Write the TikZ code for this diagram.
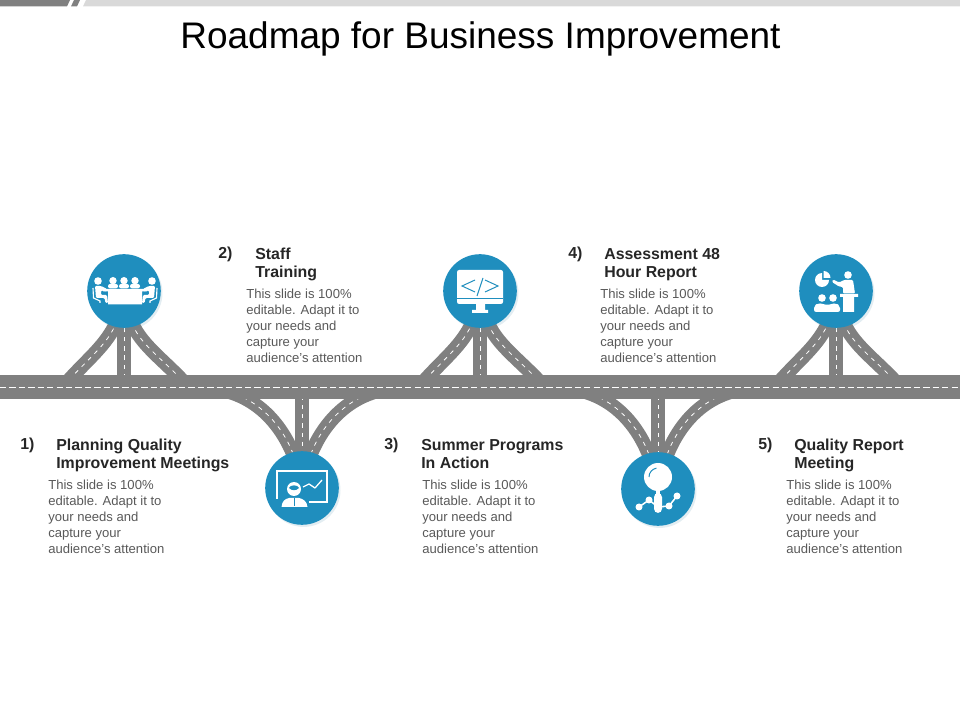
\documentclass[tikz,border=0pt]{standalone}
\usepackage{fontspec}
\setmainfont{Liberation Sans}
\usetikzlibrary{backgrounds}
\usetikzlibrary{shadows}
\definecolor{HUB}{HTML}{1F8EBE}
\definecolor{ROAD}{HTML}{808080}
\definecolor{BAR}{HTML}{D9D9D9}
\definecolor{TITLE}{HTML}{262626}
\definecolor{BODY}{HTML}{595959}
\tikzset{
	every node/.style = {inner sep=0pt},
	hub/.style = {circle, fill=HUB, minimum size=1.84cm, drop shadow={shadow xshift=1.2pt, shadow yshift=-1.5pt, opacity=.15, fill=HUB!60!gray}},
	road/.style = {draw=ROAD, line width=10pt, shorten >=-3pt},
	roadline/.style = {draw=white, line width=.55pt, dash pattern=on 3pt off 3.5pt},
	stepnum/.style = {anchor=base west, font=\fontsize{11.3}{13.5}\selectfont\bfseries, text=TITLE},
	steptitle/.style = {anchor=base west, align=left, font=\fontsize{11.3}{13.5}\selectfont\bfseries, text=TITLE},
	stepbody/.style = {anchor=base west, align=left, font=\fontsize{9.3}{11.34}\selectfont, text=BODY},
	icon/.style = {fill=white, draw=none},
	iconline/.style = {draw=white, line width=1.1pt},
	hubline/.style = {draw=HUB, line width=.7pt}
}
\newcommand{\slidenote}{This slide is 100\%\\editable. Adapt it to\\your needs and\\capture your\\audience's attention}

\begin{document}
\begin{tikzpicture}[x=.025cm, y=-.025cm]
		\useasboundingbox (0,0) rectangle (960,720);
		% top strip
		\fill[ROAD] (0,0) -- (70,0) -- (67,6.5) -- (0,6.5) -- cycle;
		\fill[ROAD] (74,0) -- (80,0) -- (77,6.5) -- (71,6.5) -- cycle;
		\fill[BAR] (86,0) -- (960,0) -- (960,6.5) -- (83,6.5) -- cycle;
		\node[font=\fontsize{26.3}{30}\selectfont, text=black] (heading) at (480.5,39) {Roadmap for Business Improvement};
		% hubs
		\node[hub] (hubA) at (124,291) {};
		\node[hub] (hubB) at (302,488) {};
		\node[hub] (hubC) at (480,291) {};
		\node[hub] (hubD) at (658,489) {};
		\node[hub] (hubE) at (836,291) {};
		% roads
		\begin{scope}[on background layer]
		\foreach \hubname/\hx in {hubA/124, hubC/480, hubE/836} {
			\coordinate (\hubname left) at (\hx-55,380);
			\coordinate (\hubname mid) at (\hx,378);
			\coordinate (\hubname right) at (\hx+58,380);
			\foreach \kind in {road, roadline} {
				\draw[\kind] (\hubname left) .. controls (\hx-35,358) and (\hx-18,345) .. (\hubname.255);
				\draw[\kind] (\hubname mid) -- (\hubname.south);
				\draw[\kind] (\hubname right) .. controls (\hx+37,358) and (\hx+18,345) .. (\hubname.285);
			}
		}
		\foreach \hubname/\hx in {hubB/302, hubD/658} {
			\coordinate (\hubname left) at (\hx-76,391);
			\coordinate (\hubname mid) at (\hx,396);
			\coordinate (\hubname right) at (\hx+76,391);
			\foreach \kind in {road, roadline} {
				\draw[\kind] (\hubname left) .. controls (\hx-42,400) and (\hx-20,426) .. (\hubname.105);
				\draw[\kind] (\hubname mid) -- (\hubname.north);
				\draw[\kind] (\hubname right) .. controls (\hx+42,400) and (\hx+20,426) .. (\hubname.75);
			}
		}
		% main road
		\fill[ROAD] (0,375) rectangle (960,399);
		\draw[white, line width=.65pt, dash pattern=on 4.5pt off 2.2pt] (0,387) -- (960,387);
		\end{scope}
		% meeting
		\begin{scope}[shift={(hubA)}]
		\fill[icon] (-21,-2) rectangle (23,.5) (-16,.5) rectangle (18,13.5);
		\foreach \hx in {-11,0,11} {
			\fill[icon] (\hx,-10.3) circle (3.7);
			\fill[icon, rounded corners=1.5pt] (\hx-5,-2.6) -- (\hx-5,-7) -- (\hx+5,-7) -- (\hx+5,-2.6) -- cycle;
		}
		\foreach \side in {1,-1} {
			\begin{scope}[shift={(1,0)}, xscale=\side]
			\fill[icon] (-27,-10) circle (3.8);
			\fill[icon, rounded corners=.8pt] (-30,-5) -- (-24,-5) -- (-18,-2) -- (-18,.5) -- (-24,-.5) -- (-24,4) -- (-18,4) -- (-17,12) -- (-19.5,12) -- (-20.5,7) -- (-29,7) -- cycle;
			\draw[iconline, line width=.8pt] (-32,-3) -- (-31.5,7) -- (-25,10) -- (-25,12);
			\end{scope}
		}
		\end{scope}
		% presenter at board
		\begin{scope}[shift={(hubB)}]
		\draw[iconline] (-25,11) -- (-25,-17) -- (25,-17) -- (25,14) -- (7,14);
		\fill[icon] (-8,1) circle (7);
		\fill[HUB] (-13,0) .. controls (-10,3) and (-6,3) .. (-3,0) .. controls (-4,-3.5) and (-12,-3.5) .. (-13,0) -- cycle;
		\fill[icon] (-20.5,19) .. controls (-20,13) and (-17,11) .. (-13,10) -- (-3,10) .. controls (1,11) and (5,13) .. (5.5,19) -- cycle;
		\draw[hubline] (-8,10.5) -- (-8,18);
		\draw[iconline, line width=.9pt, line join=round] (1,-1) -- (7,-4) -- (13,0) -- (20,-8);
		\end{scope}
		% monitor
		\begin{scope}[shift={(hubC)}]
		\fill[icon, rounded corners=1.5pt] (-23,-21) rectangle (23,13);
		\fill[icon] (-4,13) rectangle (5,19) (-8,19) rectangle (8,22);
		\draw[hubline] (-23,7) -- (23,7);
		\draw[hubline] (-5,-11) -- (-18,-5) -- (-5,1);
		\draw[hubline] (3,-13) -- (-3,5);
		\draw[hubline] (5,-11) -- (18,-5) -- (5,1);
		\end{scope}
		% magnifier
		\begin{scope}[shift={(hubD)}]
		\draw[iconline] (-19,18) -- (-9,11) -- (0,18) -- (11,17) -- (19,7);
		\fill[icon] (0,-12) circle (14);
		\draw[hubline] (-9,-12) arc (180:260:9);
		\fill[icon, rounded corners=3pt] (-4,4) rectangle (4,24);
		\fill[icon] (-2,0) rectangle (2,6);
		\fill[icon] (-19,18) circle (3.5) (-9,11) circle (3.5) (11,17) circle (3.5) (19,7) circle (3.5);
		\end{scope}
		% presentation
		\begin{scope}[shift={(hubE)}]
		\fill[icon] (-14,-11) -- (-14,-18) arc (270:0:7) -- cycle;
		\fill[icon] (-12.5,-13) -- (-12.5,-20) arc (270:360:7) -- cycle;
		\fill[icon] (12,-16) circle (3.8);
		\fill[icon, rounded corners=.8pt] (-4,-9) -- (-3,-11.5) -- (3,-8.5) -- (8,-11) -- (17,-11) -- (19,2.5) -- (7,2.5) -- (7,-4) -- (3,-4.5) -- cycle;
		\fill[icon] (4,3) rectangle (22,6) (7,6) rectangle (18,21);
		\fill[icon] (-14,7) circle (3.8) (-3,7) circle (3.8);
		\fill[icon, rounded corners=1.5pt] (-22,21) -- (-22,15) -- (-18,12) -- (-8.5,14) -- (0,12) -- (4,15) -- (4,21) -- cycle;
		\end{scope}
		% step texts
		\node[stepnum] (numA) at (20,449.5) {1)};
		\node[steptitle] (titleA) at (56,469) {Planning Quality\\Improvement Meetings};
		\node[stepbody] (noteA) at (48,553.2) {\slidenote};
		\node[stepnum] (numB) at (218,258.5) {2)};
		\node[steptitle] (titleB) at (255,278) {Staff\\Training};
		\node[stepbody] (noteB) at (246,362.2) {\slidenote};
		\node[stepnum] (numC) at (384,449.5) {3)};
		\node[steptitle] (titleC) at (421,469) {Summer Programs\\In Action};
		\node[stepbody] (noteC) at (422,553.2) {\slidenote};
		\node[stepnum] (numD) at (568,258.5) {4)};
		\node[steptitle] (titleD) at (604,278) {Assessment 48\\Hour Report};
		\node[stepbody] (noteD) at (600,362.2) {\slidenote};
		\node[stepnum] (numE) at (758,449.5) {5)};
		\node[steptitle] (titleE) at (794,469) {Quality Report\\Meeting};
		\node[stepbody] (noteE) at (786,553.2) {\slidenote};
	\end{tikzpicture}
\end{document}
